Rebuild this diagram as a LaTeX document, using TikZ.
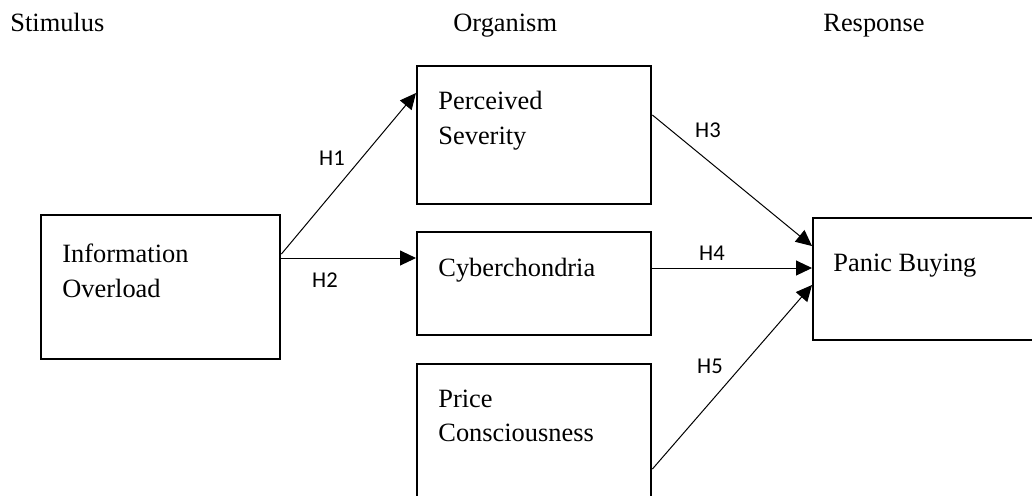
\documentclass[tikz,border=0pt]{standalone}
\usepackage{fontspec}
\setmainfont{Liberation Serif}
\newfontfamily\hypfont{Carlito}
\usetikzlibrary{arrows.meta,calc}

\begin{document}
\begin{tikzpicture}[x=0.5pt,y=-0.5pt,
  box/.style={draw, line width=1.2pt, inner sep=0pt, anchor=north west},
  boxtext/.style={anchor=base west, align=left, inner sep=0pt,
    font=\fontsize{13.2}{17.3}\selectfont},
  header/.style={anchor=base west, inner sep=0pt,
    font=\fontsize{13.2}{16}\selectfont},
  link/.style={-{Triangle[length=8pt,width=7.5pt]}, line width=0.5pt},
  hyp/.style={inner sep=0pt, font=\hypfont\fontsize{11.3}{13}\selectfont}
]
\clip (0,0) rectangle (1032,495);

% Stage headers
\node[header] (stimulus) at (10,31) {Stimulus};
\node[header] (organism) at (453,31) {Organism};
\node[header] (response) at (823,31) {Response};

% Boxes
\node[box, minimum width=119.5pt, minimum height=72pt]   (info)   at (40,214) {};
\node[box, minimum width=117pt, minimum height=69pt]     (sev)    at (416,65) {};
\node[box, minimum width=117pt, minimum height=51.5pt]   (cyber)  at (416,231) {};
\node[box, minimum width=117pt, minimum height=80pt]     (price)  at (416,363) {};
\node[box, minimum width=125pt, minimum height=61pt]     (panic)  at (812,217) {};

% Box texts (base = last line)
\node[boxtext] (infotext)  at ($(info.north west)+(22,83)$)    {Information\\Overload};
\node[boxtext] (sevtext)   at ($(sev.north west)+(22,79)$)     {Perceived\\Severity};
\node[boxtext] (cybertext) at ($(cyber.north west)+(22,45)$)   {Cyberchondria};
\node[boxtext] (pricetext) at ($(price.north west)+(22,78.7)$) {Price\\Consciousness};
\node[boxtext] (panictext) at ($(panic.north west)+(21,54)$)   {Panic Buying};

% Hypotheses
\draw[link] ($(info.north east)+(0,40)$) -- ($(sev.north west)+(0,28)$);
\draw[link] ($(info.north east)+(0,44)$) -- ($(cyber.north west)+(0,27)$);
\draw[link] ($(sev.north east)+(0,50)$) -- ($(panic.north west)+(0,29)$);
\draw[link] ($(cyber.north east)+(0,37)$) -- ($(panic.north west)+(0,51)$);
\draw[link] ($(price.north east)+(0,106)$) -- ($(panic.north west)+(0,68)$);

\node[hyp] (h1) at (332,158) {H1};
\node[hyp] (h2) at (325,280) {H2};
\node[hyp] (h3) at (708,130) {H3};
\node[hyp] (h4) at (712,253) {H4};
\node[hyp] (h5) at (710,366) {H5};
\end{tikzpicture}
\end{document}
